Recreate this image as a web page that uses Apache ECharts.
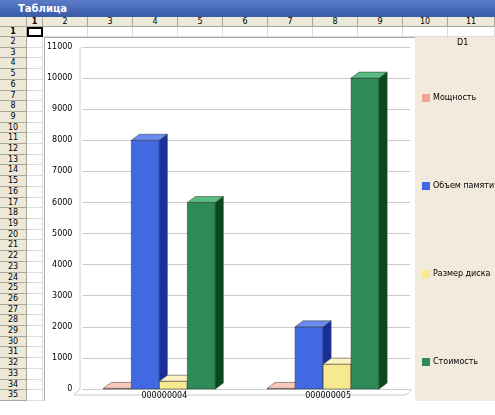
<!DOCTYPE html><html><head><meta charset="utf-8">
<script src="https://cdn.jsdelivr.net/npm/echarts@6/dist/echarts.min.js"></script>
<style>
body{margin:0;width:495px;height:415px;overflow:hidden;background:#fff;font-family:"DejaVu Sans",sans-serif;position:relative}
#title{position:absolute;left:0;top:0;width:495px;height:17px;background:linear-gradient(#5a7cc8,#3a5aa8);color:#fff;font:bold 10px "DejaVu Sans";line-height:17px;text-indent:18px}
.h{position:absolute;background:#ece9d8;border-right:1px solid #aca899;border-bottom:1px solid #aca899;box-sizing:border-box;font-size:8px;text-align:center;color:#000}
.c{position:absolute;border-right:1px solid #ddd;border-bottom:1px solid #ddd;box-sizing:border-box}
#chart{position:absolute;left:44px;top:37px;width:451px;height:364px}
</style></head><body>
<div id="title">Таблица</div>
<div id="grid"></div>
<div id="chart"></div>
<script>
const categories=['000000004','000000005'];
const seriesNames=['Мощность','Объем памяти','Размер диска','Стоимость'];
const power=[20,20];
const memory=[8000,2000];
const disk=[250,800];
const cost=[6000,10000];
const yTicks=[0,1000,2000,3000,4000,5000,6000,7000,8000,9000,10000,11000];
const colors=[['#f4a490','#d88070','#f8c8b8'],['#4169e1','#1a2f9a','#6a8cf0'],['#f8e890','#c8b860','#fcf4c0'],['#2e8b57','#0a4a1a','#5aba80']];

const g=document.getElementById('grid');let html='';
const colX=[27,43,88,133,178,223,268,313,358,403,448,495];
html+=`<div class="h" style="left:0;top:17px;width:27px;height:10px"></div>`;
for(let i=0;i<11;i++)html+=`<div class="h" style="left:${colX[i]}px;top:17px;width:${colX[i+1]-colX[i]}px;height:10px;line-height:10px;${i==0?'font-weight:bold':''}">${i+1}</div>`;
const rowH=364/34;
html+=`<div class="h" style="left:0;top:27px;width:27px;height:10px;line-height:10px;font-weight:bold">1</div>`;
for(let i=0;i<11;i++)html+=`<div class="c" style="left:${colX[i]}px;top:27px;width:${colX[i+1]-colX[i]}px;height:10px;${i==0?'border:2px solid #000':''}"></div>`;
for(let r=0;r<34;r++){const y=37+r*rowH;html+=`<div class="h" style="left:0;top:${y}px;width:27px;height:${rowH}px;line-height:${rowH}px">${r+2}</div>`;
html+=`<div class="c" style="left:27px;top:${y}px;width:16px;height:${rowH}px"></div>`;}
g.innerHTML=html;

const chart=echarts.init(document.getElementById('chart'));
const dataSets=[power,memory,disk,cost];
function mk(idx){
 return {type:'custom',name:seriesNames[idx],itemStyle:{color:colors[idx][0]},
 data:dataSets[idx].map((v,i)=>[i,v]),
 renderItem:(params,api)=>{
  const p=api.coord([api.value(0),api.value(1)]);const b=api.coord([api.value(0),0]);
  const w=28,dx=8,dy=6;const x0=p[0]-61+idx*28;const top=p[1],bot=b[1];
  const c=colors[idx];
  return {type:'group',children:[
   {type:'rect',shape:{x:x0,y:top,width:w,height:bot-top},style:{fill:c[0],stroke:'#333',lineWidth:0.5}},
   {type:'polygon',shape:{points:[[x0+w,top],[x0+w+dx,top-dy],[x0+w+dx,bot-dy],[x0+w,bot]]},style:{fill:c[1],stroke:'#333',lineWidth:0.5}},
   {type:'polygon',shape:{points:[[x0,top],[x0+dx,top-dy],[x0+w+dx,top-dy],[x0+w,top]]},style:{fill:c[2],stroke:'#333',lineWidth:0.5}}
  ]};
 }};
}
chart.setOption({
 animation:false,
 graphic:[{type:'rect',left:0,top:0,shape:{width:371,height:364},style:{fill:'#fff',stroke:'#aaa'}},
  {type:'rect',left:371,top:0,shape:{width:80,height:364},style:{fill:'#f2eadc'}},
  {type:'text',left:413,top:2,style:{text:'D1',font:'8px "DejaVu Sans"',fill:'#000'}},
  {type:'polyline',shape:{points:[[36,352],[30,358],[362,358],[368,352]]},style:{stroke:'#ccc',fill:'none'}},
  {type:'polyline',shape:{points:[[36,10],[36,352]]},style:{stroke:'#ccc'}}],
 legend:{orient:'vertical',left:373,top:52,itemGap:80,itemWidth:8,itemHeight:8,icon:'rect',
  textStyle:{fontSize:8,fontFamily:'DejaVu Sans',color:'#000',padding:[0,0,0,-2]},data:seriesNames},
 grid:{left:36,top:10,width:330,height:342},
 xAxis:{type:'category',data:categories,axisTick:{show:false},axisLine:{lineStyle:{color:'#ccc'}},
  axisLabel:{fontSize:8,color:'#000',fontFamily:'DejaVu Sans',margin:3}},
 yAxis:{type:'value',min:0,max:11000,interval:1000,axisLine:{show:false},axisTick:{show:false},
  splitLine:{lineStyle:{color:'#ccc'}},axisLabel:{fontSize:8,color:'#000',fontFamily:'DejaVu Sans',margin:10,
  formatter:v=>yTicks.includes(v)?String(v):''}},
 series:[0,1,2,3].map(mk)
});
</script></body></html>
